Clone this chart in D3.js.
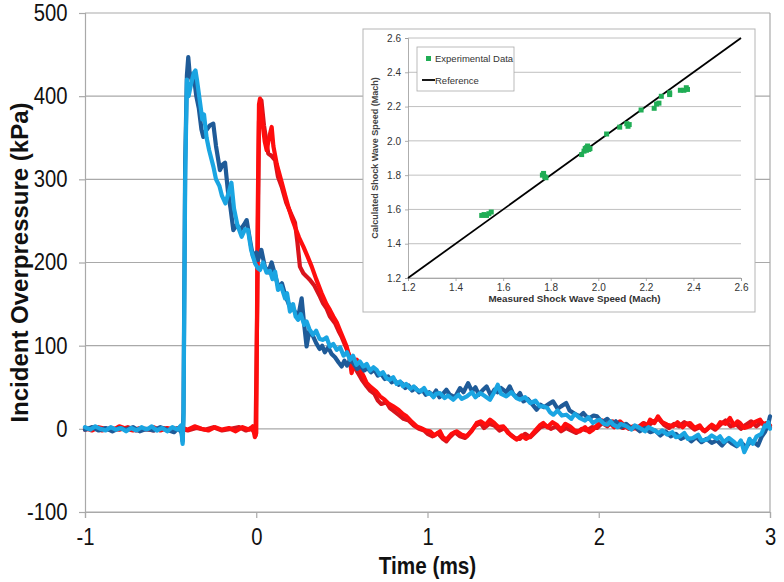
<!DOCTYPE html>
<html><head><meta charset="utf-8">
<script src="https://cdn.jsdelivr.net/npm/d3@7"></script>
<style>
html,body{margin:0;padding:0;background:#fff;}
svg{display:block;font-family:"Liberation Sans",Arial,sans-serif;}
</style></head>
<body>
<svg id="chart" width="784" height="582"></svg>
<script>
// ---------- main chart data ----------
const timeTicks = [-1, 0, 1, 2, 3];
const pressureTicks = [-100, 0, 100, 200, 300, 400, 500];
const xTitle = "Time (ms)";
const yTitle = "Incident Overpressure (kPa)";

// [time (ms), overpressure (kPa)]
const darkRed = [[-1,-1],[-0.95,2],[-0.9,-2],[-0.85,1],[-0.8,-1],[-0.75,2],[-0.7,-2],[-0.65,0],[-0.6,-2],[-0.55,1],[-0.5,-1],[-0.45,1],[-0.4,-2],[-0.35,1],[-0.3,-1],[-0.25,2],[-0.2,-2],[-0.15,0],[-0.1,2],[-0.06,-2],[-0.03,1],[-0.012,-4],[-0.004,-8],[0.006,150],[0.016,370],[0.03,395],[0.045,365],[0.07,331],[0.09,328],[0.11,323],[0.127,303],[0.15,290],[0.175,272],[0.2,260],[0.226,248],[0.24,225],[0.255,195],[0.275,187],[0.295,183],[0.314,179],[0.34,172],[0.372,159],[0.39,151],[0.41,145],[0.43,135],[0.46,127],[0.48,118],[0.5,110],[0.52,100],[0.54,90],[0.56,78],[0.58,72],[0.6,65],[0.62,58],[0.645,51],[0.665,46],[0.69,42],[0.71,34],[0.73,30],[0.76,32],[0.78,25],[0.8,22],[0.83,17],[0.86,12],[0.89,10],[0.92,4],[0.95,0],[0.98,-2],[1.0,-6],[1.03,-9],[1.06,-5],[1.09,-12],[1.11,-15],[1.13,-10],[1.16,-4],[1.19,-9],[1.22,-11],[1.25,-4],[1.28,4],[1.31,7],[1.33,1],[1.36,6],[1.39,4],[1.42,-2],[1.45,1],[1.48,-6],[1.51,-11],[1.54,-12],[1.57,-6],[1.6,-10],[1.63,-4],[1.66,2],[1.69,4],[1.72,0],[1.75,3],[1.78,-3],[1.81,1],[1.84,-2],[1.87,-5],[1.9,0],[1.93,-2],[1.96,2],[1.99,1],[2.02,7],[2.05,3],[2.08,9],[2.11,5],[2.14,1],[2.17,4],[2.2,0],[2.23,2],[2.26,7],[2.29,4],[2.32,9],[2.35,12],[2.38,5],[2.41,1],[2.44,6],[2.47,3],[2.5,8],[2.53,4],[2.56,-1],[2.59,2],[2.62,-3],[2.65,3],[2.68,-1],[2.71,5],[2.74,10],[2.77,3],[2.8,6],[2.83,0],[2.86,5],[2.89,9],[2.92,3],[2.95,8],[2.98,4],[3.0,2]];

const brightRed = [[-1,1],[-0.96,-2],[-0.92,2],[-0.88,0],[-0.84,-2],[-0.8,3],[-0.76,0],[-0.72,-2],[-0.68,1],[-0.64,-1],[-0.6,2],[-0.56,-2],[-0.52,1],[-0.48,-1],[-0.44,2],[-0.4,-1],[-0.36,3],[-0.32,0],[-0.28,-2],[-0.24,2],[-0.2,-1],[-0.16,1],[-0.12,-3],[-0.08,2],[-0.04,-1],[-0.02,3],[-0.008,-10],[0.0,-5],[0.008,250],[0.016,390],[0.022,397],[0.035,370],[0.05,345],[0.061,335],[0.075,350],[0.09,363],[0.1,340],[0.12,318],[0.149,296],[0.17,280],[0.19,265],[0.21,252],[0.226,243],[0.25,230],[0.275,219],[0.3,207],[0.324,195],[0.35,180],[0.382,163],[0.41,150],[0.43,143],[0.45,135],[0.47,128],[0.49,118],[0.51,108],[0.528,99],[0.545,85],[0.557,67],[0.572,80],[0.587,83],[0.61,70],[0.63,62],[0.645,55],[0.67,50],[0.7,45],[0.723,39],[0.75,35],[0.775,30],[0.8,27],[0.83,23],[0.855,18],[0.878,15],[0.91,8],[0.937,3],[0.96,1],[0.99,-2],[1.015,-3],[1.04,-8],[1.073,-3],[1.09,-10],[1.11,-13],[1.14,-6],[1.17,-3],[1.2,-7],[1.23,-9],[1.26,-2],[1.287,7],[1.31,9],[1.34,5],[1.365,11],[1.39,7],[1.415,2],[1.443,3],[1.47,-5],[1.5,-10],[1.52,-13],[1.55,-8],[1.575,-12],[1.6,-9],[1.63,-2],[1.655,4],[1.676,7],[1.7,2],[1.73,8],[1.754,5],[1.78,-1],[1.805,6],[1.832,3],[1.86,-2],[1.89,-3],[1.92,2],[1.945,-4],[1.966,-1],[1.99,4],[2.02,10],[2.046,5],[2.066,7],[2.09,2],[2.124,9],[2.15,4],[2.175,0],[2.2,3],[2.23,-1],[2.26,6],[2.28,2],[2.3,11],[2.325,7],[2.346,15],[2.37,8],[2.4,5],[2.434,3],[2.46,8],[2.49,2],[2.51,6],[2.533,7],[2.56,1],[2.59,4],[2.61,-2],[2.63,-1],[2.66,5],[2.688,1],[2.71,8],[2.74,6],[2.766,13],[2.79,4],[2.81,9],[2.825,7],[2.85,1],[2.883,3],[2.91,8],[2.942,11],[2.96,5],[2.98,7],[3.0,4]];

const darkBlue = [[-1,-1],[-0.96,2],[-0.92,-2],[-0.88,1],[-0.84,-3],[-0.8,1],[-0.76,-1],[-0.72,2],[-0.68,-3],[-0.64,0],[-0.6,-2],[-0.56,2],[-0.52,-1],[-0.48,-4],[-0.455,1],[-0.435,-5],[-0.43,-15],[-0.425,20],[-0.415,320],[-0.405,425],[-0.397,447],[-0.39,430],[-0.377,419],[-0.365,425],[-0.35,400],[-0.335,385],[-0.32,360],[-0.309,351],[-0.295,358],[-0.27,365],[-0.251,367],[-0.235,340],[-0.212,311],[-0.195,318],[-0.182,320],[-0.165,285],[-0.15,265],[-0.134,239],[-0.115,245],[-0.09,240],[-0.07,246],[-0.056,251],[-0.035,225],[-0.019,207],[0.0,212],[0.01,203],[0.03,215],[0.05,195],[0.07,188],[0.09,200],[0.11,185],[0.13,170],[0.15,175],[0.17,160],[0.19,150],[0.21,146],[0.235,138],[0.25,140],[0.265,157],[0.28,125],[0.294,99],[0.31,118],[0.33,112],[0.35,103],[0.37,96],[0.385,100],[0.4,92],[0.42,98],[0.44,90],[0.46,86],[0.48,80],[0.499,75],[0.515,82],[0.53,76],[0.55,84],[0.57,78],[0.59,72],[0.61,76],[0.63,70],[0.65,73],[0.67,68],[0.69,71],[0.71,64],[0.73,66],[0.75,60],[0.77,63],[0.79,56],[0.81,58],[0.83,53],[0.85,55],[0.87,49],[0.89,52],[0.91,46],[0.93,49],[0.95,44],[0.97,47],[0.99,41],[1.01,44],[1.03,40],[1.05,46],[1.07,38],[1.09,42],[1.11,47],[1.13,41],[1.16,38],[1.19,49],[1.21,44],[1.237,55],[1.26,45],[1.28,50],[1.3,41],[1.32,46],[1.345,51],[1.37,40],[1.39,47],[1.41,44],[1.43,49],[1.46,44],[1.48,51],[1.5,42],[1.52,38],[1.54,43],[1.56,33],[1.585,36],[1.61,30],[1.637,23],[1.66,29],[1.68,26],[1.71,30],[1.733,33],[1.76,24],[1.78,27],[1.81,31],[1.83,22],[1.86,18],[1.89,15],[1.91,19],[1.94,12],[1.97,16],[1.99,15],[2.02,8],[2.05,12],[2.08,5],[2.1,9],[2.13,2],[2.16,6],[2.19,0],[2.21,3],[2.24,-3],[2.27,1],[2.3,-4],[2.33,-2],[2.36,-8],[2.39,-3],[2.42,-9],[2.45,-6],[2.48,-12],[2.51,-9],[2.54,-15],[2.57,-10],[2.6,-16],[2.63,-12],[2.66,-17],[2.69,-14],[2.72,-20],[2.75,-13],[2.78,-18],[2.805,-21],[2.83,-16],[2.86,-22],[2.88,-17],[2.9,-15],[2.93,-20],[2.95,-10],[2.97,-4],[2.99,6],[3.0,15]];

const lightBlue = [[-1,2],[-0.97,-1],[-0.94,3],[-0.91,0],[-0.88,-2],[-0.85,2],[-0.82,-1],[-0.79,1],[-0.76,-3],[-0.73,1],[-0.7,-2],[-0.67,2],[-0.64,-1],[-0.61,3],[-0.58,-2],[-0.55,1],[-0.52,-3],[-0.49,2],[-0.46,-1],[-0.44,4],[-0.43,-18],[-0.425,10],[-0.415,300],[-0.405,420],[-0.395,400],[-0.38,415],[-0.365,428],[-0.355,431],[-0.345,418],[-0.33,395],[-0.315,372],[-0.305,378],[-0.29,350],[-0.275,335],[-0.25,315],[-0.235,300],[-0.215,292],[-0.2,280],[-0.18,271],[-0.16,285],[-0.145,296],[-0.13,265],[-0.11,245],[-0.085,231],[-0.065,240],[-0.048,239],[-0.03,215],[-0.007,199],[0.01,193],[0.022,191],[0.04,200],[0.06,188],[0.08,190],[0.095,180],[0.11,189],[0.127,167],[0.145,172],[0.168,157],[0.18,163],[0.197,141],[0.215,150],[0.23,135],[0.244,131],[0.26,138],[0.28,125],[0.294,129],[0.31,120],[0.332,113],[0.35,118],[0.37,108],[0.39,107],[0.41,110],[0.43,99],[0.45,102],[0.47,95],[0.49,98],[0.51,88],[0.53,92],[0.547,83],[0.565,88],[0.585,77],[0.605,81],[0.625,75],[0.645,78],[0.665,70],[0.685,74],[0.703,71],[0.72,65],[0.74,68],[0.76,61],[0.78,59],[0.8,62],[0.82,54],[0.84,57],[0.857,51],[0.875,54],[0.9,48],[0.92,51],[0.937,47],[0.96,45],[0.98,49],[1.0,42],[1.015,43],[1.035,38],[1.05,42],[1.073,43],[1.1,37],[1.12,40],[1.15,35],[1.18,41],[1.2,36],[1.23,39],[1.26,44],[1.28,38],[1.307,43],[1.33,40],[1.365,35],[1.39,44],[1.41,53],[1.43,42],[1.46,39],[1.49,44],[1.52,37],[1.54,35],[1.57,38],[1.6,31],[1.63,34],[1.655,27],[1.677,27],[1.7,25],[1.715,20],[1.735,17],[1.76,22],[1.785,16],[1.81,17],[1.84,12],[1.86,18],[1.89,13],[1.92,10],[1.94,14],[1.966,7],[1.99,10],[2.007,11],[2.03,6],[2.05,5],[2.07,9],[2.085,5],[2.11,2],[2.13,6],[2.163,3],[2.19,-1],[2.21,4],[2.24,1],[2.27,-3],[2.29,2],[2.318,-1],[2.35,-5],[2.37,-2],[2.4,-7],[2.43,-4],[2.45,-10],[2.474,-9],[2.5,-5],[2.52,-12],[2.55,-11],[2.58,-7],[2.6,-14],[2.63,-13],[2.66,-8],[2.69,-12],[2.708,-9],[2.73,-16],[2.76,-11],[2.786,-15],[2.81,-20],[2.83,-14],[2.85,-28],[2.864,-22],[2.88,-12],[2.9,-18],[2.922,-9],[2.95,-6],[2.97,4],[2.98,3],[2.99,8],[3.0,0]];

const seriesNames = ["darkRed", "brightRed", "darkBlue", "lightBlue"];
const seriesColors = ["#d9141c", "#ff0d0d", "#1f5b98", "#1aa5e2"];

// ---------- inset data ----------
const insetTicks = [1.2, 1.4, 1.6, 1.8, 2.0, 2.2, 2.4, 2.6];
const insetXTitle = "Measured Shock Wave Speed (Mach)";
const insetYTitle = "Calculated Shock Wave Speed (Mach)";
const measured   = [1.51, 1.52, 1.53, 1.54, 1.55, 1.765, 1.77, 1.775, 1.78, 1.93, 1.94, 1.945, 1.95, 1.955, 1.96, 1.95, 1.965, 2.035, 2.09, 2.12, 2.125, 2.13, 2.18, 2.235, 2.245, 2.255, 2.265, 2.30, 2.30, 2.345, 2.36, 2.37, 2.375];
const calculated = [1.565, 1.57, 1.565, 1.575, 1.585, 1.80, 1.81, 1.79, 1.785, 1.92, 1.94, 1.955, 1.96, 1.97, 1.95, 1.945, 1.955, 2.04, 2.08, 2.10, 2.085, 2.095, 2.18, 2.19, 2.215, 2.22, 2.26, 2.27, 2.28, 2.295, 2.295, 2.31, 2.30];
const referenceLine = [1.2, 2.6];
const legendLabels = ["Experimental Data", "Reference"];

// ---------- drawing ----------
const svg = d3.select("#chart");
const M = {left: 85, right: 770, top: 13, bottom: 512};
const x = d3.scaleLinear().domain([-1, 3]).range([M.left, M.right]);
const y = d3.scaleLinear().domain([-100, 500]).range([M.bottom, M.top]);
const gridColor = "#a9a9a9";
const fmt = d => String(d);

// gridlines
svg.append("g").selectAll("line").data(pressureTicks).join("line")
  .attr("x1", M.left).attr("x2", M.right)
  .attr("y1", d => y(d)).attr("y2", d => y(d))
  .attr("stroke", gridColor).attr("stroke-width", 1.2);

// right border
svg.append("line").attr("x1", M.right).attr("x2", M.right).attr("y1", M.top).attr("y2", M.bottom)
  .attr("stroke", gridColor).attr("stroke-width", 1.2);

// axes
const yAxis = svg.append("g").attr("transform", `translate(${M.left},0)`)
  .call(d3.axisLeft(y).tickValues(pressureTicks).tickSize(6).tickPadding(14).tickFormat(fmt));
const xAxis = svg.append("g").attr("transform", `translate(0,${M.bottom})`)
  .call(d3.axisBottom(x).tickValues(timeTicks).tickSize(6).tickPadding(8).tickFormat(fmt));
[yAxis, xAxis].forEach(a => {
  a.select(".domain").attr("stroke", gridColor).attr("stroke-width", 1.2);
  a.selectAll(".tick line").attr("stroke", gridColor).attr("stroke-width", 1.2);
  a.selectAll(".tick text").attr("fill", "#111").attr("font-size", 23)
    .attr("font-family", "'Liberation Sans', Arial, sans-serif");
});
// slightly condensed tick labels, as in the reference
yAxis.selectAll(".tick text").each(function() {
  const t = d3.select(this);
  const ty = +t.attr("y") || 0;
  t.attr("transform", null);
}).attr("transform", function() {
  const tr = d3.select(this.parentNode).attr("transform");
  return `scale(0.88,1)`;
});
xAxis.selectAll(".tick text").attr("dy", "0.82em").attr("transform", "scale(0.88,1)");

// axis titles
svg.append("text").attr("transform", `translate(${(M.left + M.right) / 2},574) scale(0.9,1)`)
  .attr("text-anchor", "middle").attr("font-size", 23).attr("font-weight", "bold").attr("fill", "#111")
  .text(xTitle);
svg.append("text").attr("transform", `translate(28,${(M.top + M.bottom) / 2 + 0}) rotate(-90)`)
  .attr("text-anchor", "middle").attr("font-size", 24).attr("font-weight", "bold").attr("fill", "#111")
  .text(yTitle);

// series lines
const allSeries = [darkRed, brightRed, darkBlue, lightBlue];
const line = d3.line().x(d => x(d[0])).y(d => y(d[1])).curve(d3.curveLinear);
svg.append("g").selectAll("path").data(allSeries).join("path")
  .attr("d", line).attr("fill", "none")
  .attr("stroke", (d, i) => seriesColors[i])
  .attr("stroke-width", 4.2).attr("stroke-linejoin", "round").attr("stroke-linecap", "round");

// ---------- inset ----------
const IB = {left: 363, top: 29, right: 755, bottom: 312};
svg.append("rect").attr("x", IB.left).attr("y", IB.top)
  .attr("width", IB.right - IB.left).attr("height", IB.bottom - IB.top)
  .attr("fill", "#fff").attr("stroke", "#b5b5b5").attr("stroke-width", 1);

const IM = {left: 408, right: 741, top: 38, bottom: 278};
const ix = d3.scaleLinear().domain([1.2, 2.6]).range([IM.left, IM.right]);
const iy = d3.scaleLinear().domain([1.2, 2.6]).range([IM.bottom, IM.top]);

svg.append("g").selectAll("line").data(insetTicks).join("line")
  .attr("x1", IM.left).attr("x2", IM.right)
  .attr("y1", d => iy(d)).attr("y2", d => iy(d))
  .attr("stroke", "#b0b0b0").attr("stroke-width", 0.8);

const iyAxis = svg.append("g").attr("transform", `translate(${IM.left},0)`)
  .call(d3.axisLeft(iy).tickValues(insetTicks).tickSize(3).tickPadding(4).tickFormat(d3.format(".1f")));
const ixAxis = svg.append("g").attr("transform", `translate(0,${IM.bottom})`)
  .call(d3.axisBottom(ix).tickValues(insetTicks).tickSize(3).tickPadding(3).tickFormat(d3.format(".1f")));
[iyAxis, ixAxis].forEach(a => {
  a.select(".domain").attr("stroke", "#999").attr("stroke-width", 0.8);
  a.selectAll(".tick line").attr("stroke", "#999").attr("stroke-width", 0.8);
  a.selectAll(".tick text").attr("fill", "#333").attr("font-size", 10)
    .attr("font-family", "'Liberation Sans', Arial, sans-serif");
});

svg.append("text").attr("x", (IM.left + IM.right) / 2).attr("y", 302)
  .attr("text-anchor", "middle").attr("font-size", 9.8).attr("font-weight", "bold").attr("fill", "#333")
  .text(insetXTitle);
svg.append("text").attr("transform", `translate(378,${(IM.top + IM.bottom) / 2}) rotate(-90)`)
  .attr("text-anchor", "middle").attr("font-size", 9).attr("font-weight", "bold").attr("fill", "#444")
  .text(insetYTitle);

// reference line
svg.append("line")
  .attr("x1", ix(referenceLine[0])).attr("y1", iy(referenceLine[0]))
  .attr("x2", ix(referenceLine[1])).attr("y2", iy(referenceLine[1]))
  .attr("stroke", "#000").attr("stroke-width", 1.8);

// experimental points
const pts = measured.map((m, i) => [m, calculated[i]]);
svg.append("g").selectAll("rect").data(pts).join("rect")
  .attr("x", d => ix(d[0]) - 2.5).attr("y", d => iy(d[1]) - 2.5)
  .attr("width", 5).attr("height", 5).attr("fill", "#20ad55");

// legend
const lg = svg.append("g");
lg.append("rect").attr("x", 417).attr("y", 47).attr("width", 97).attr("height", 44)
  .attr("fill", "#fff").attr("stroke", "#aaa").attr("stroke-width", 0.8);
lg.append("rect").attr("x", 426).attr("y", 56).attr("width", 5).attr("height", 5).attr("fill", "#20ad55");
lg.append("text").attr("x", 435).attr("y", 62).attr("font-size", 9.5).attr("fill", "#333").text(legendLabels[0]);
lg.append("line").attr("x1", 422).attr("x2", 435).attr("y1", 80).attr("y2", 80)
  .attr("stroke", "#000").attr("stroke-width", 1.8);
lg.append("text").attr("x", 435).attr("y", 84).attr("font-size", 9.5).attr("fill", "#333").text(legendLabels[1]);
</script>
</body></html>
